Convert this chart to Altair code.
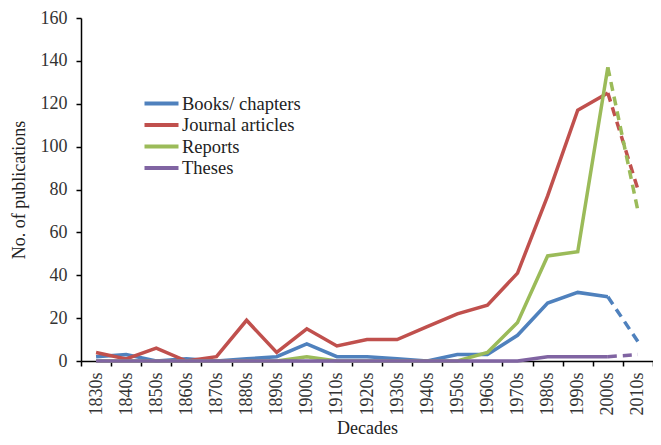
import altair as alt
import pandas as pd

decades = ["1830s","1840s","1850s","1860s","1870s","1880s","1890s","1900s","1910s","1920s",
           "1930s","1940s","1950s","1960s","1970s","1980s","1990s","2000s","2010s"]
books    = [2, 3, 0, 1, 0, 1, 2, 8, 2, 2, 1, 0, 3, 3, 12, 27, 32, 30, 9]
journal  = [4, 1, 6, 0, 2, 19, 4, 15, 7, 10, 10, 16, 22, 26, 41, 77, 117, 125, 80]
reports  = [0, 0, 0, 0, 0, 0, 0, 2, 0, 0, 0, 0, 0, 4, 18, 49, 51, 137, 70]
theses   = [0, 0, 0, 0, 0, 0, 0, 0, 0, 0, 0, 0, 0, 0, 0, 2, 2, 2, 3]
series_names = ["Books/ chapters", "Journal articles", "Reports", "Theses"]
colors = ["#4F81BD", "#C0504D", "#9BBB59", "#8064A2"]

rows = []
for name, vals in zip(series_names, [books, journal, reports, theses]):
    for i, (d, v) in enumerate(zip(decades, vals)):
        rows.append({"series": name, "decade": d, "value": v, "idx": i})
df = pd.DataFrame(rows)
solid = df[df["idx"] <= 17]
dashed = df[df["idx"] >= 17]

FONT = "Liberation Serif"
x = alt.X("decade:N", sort=decades, scale=alt.Scale(domain=decades, paddingInner=0, paddingOuter=0),
          axis=alt.Axis(title="Decades", labelAngle=-90, labelAlign="right", labelBaseline="middle",
                        tickBand="extent", labelPadding=6, titlePadding=4))
y = alt.Y("value:Q", scale=alt.Scale(domain=[0, 160], nice=False),
          axis=alt.Axis(title="No. of publications", values=list(range(0, 161, 20)), grid=False,
                        titlePadding=12, labelPadding=9))
color = alt.Color("series:N", scale=alt.Scale(domain=series_names, range=colors),
                  legend=alt.Legend(title=None, orient="none", legendX=70, legendY=75,
                                    symbolType="M-2,0H2", symbolSize=289, symbolStrokeWidth=4,
                                    labelFontSize=18.5, labelFont=FONT, labelColor="#222",
                                    rowPadding=1.5, labelOffset=10, padding=0, labelLimit=300))

l1 = alt.Chart(solid).mark_line(strokeWidth=3.5).encode(x=x, y=y, color=color)
l2 = alt.Chart(dashed).mark_line(strokeWidth=3.5, strokeDash=[9, 6]).encode(x=x, y=y, color=color)

chart = alt.layer(l1, l2).properties(
    width=572, height=343,
    autosize=alt.AutoSizeParams(type="none"),
    padding={"left": 73, "top": 10, "right": 0, "bottom": 76},
).configure_view(stroke=None).configure_axis(
    labelFont=FONT, titleFont=FONT, labelFontSize=18, titleFontSize=18,
    labelColor="#333", titleColor="#222", titleFontWeight="normal",
    domainColor="#000", tickColor="#000", domainWidth=1.5, tickWidth=1.5, tickSize=5,
).configure_legend(labelFont=FONT)

chart.save("out.html", embed_options={"renderer": "svg", "actions": False})
